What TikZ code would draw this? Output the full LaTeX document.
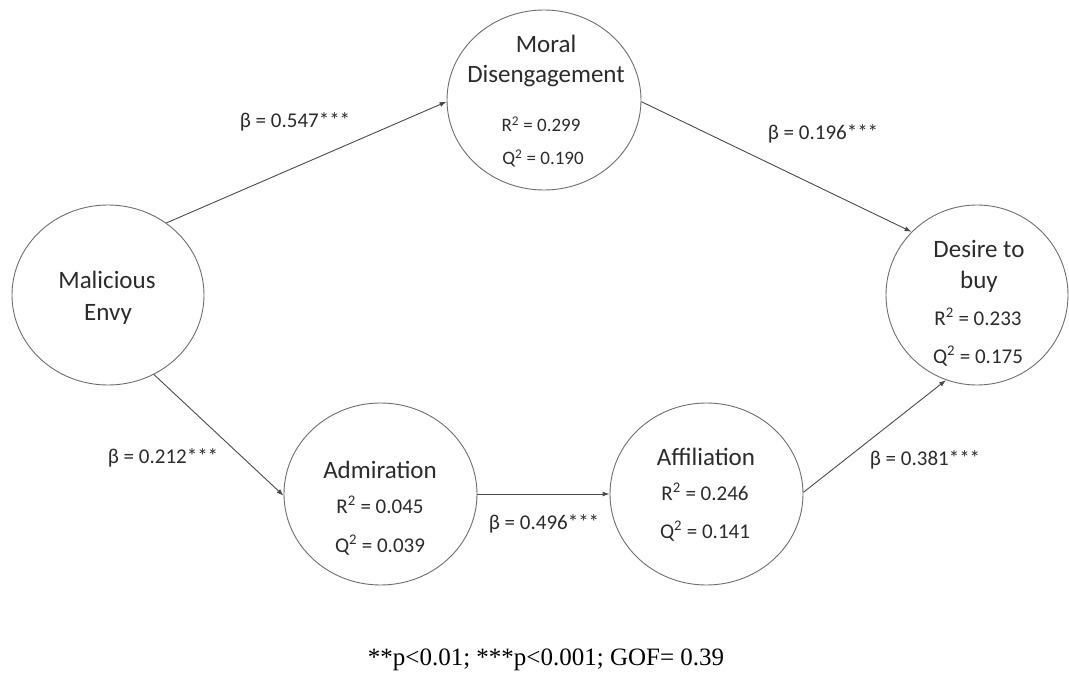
\documentclass[tikz,border=0pt]{standalone}
\usepackage{fontspec}
\setmainfont{Carlito}
\newfontfamily\notefont{Liberation Serif}
\usetikzlibrary{shapes.geometric,arrows.meta}
\definecolor{rim}{HTML}{6E6E6E}
\definecolor{wire}{HTML}{4A4A4A}
\definecolor{ink}{HTML}{2B2B2B}
\newcommand{\sqr}{\textsuperscript{2}}
\begin{document}
\begin{tikzpicture}[x=1pt,y=-1pt,
  construct/.style={draw=rim, line width=0.9pt, ellipse, inner sep=0pt},
  title/.style={anchor=base, inner sep=0pt, text=ink, font=\fontsize{25}{30}\selectfont},
  stat/.style={anchor=base, inner sep=0pt, text=ink, font=\fontsize{21}{25}\selectfont},
  smallstat/.style={stat, font=\fontsize{19}{23}\selectfont},
  coef/.style={anchor=base, inner sep=0pt, text=ink, font=\fontsize{21}{25}\selectfont},
  link/.style={draw=wire, line width=0.9pt, -{Latex[length=7pt,width=5pt]}}]
\useasboundingbox[fill=white] (0,0) rectangle (1069,682);

% latent constructs
\node[construct, minimum width=192pt, minimum height=180pt] (me)  at (108,295)   {};
\node[construct, minimum width=194pt, minimum height=180pt] (md)  at (544,100)   {};
\node[construct, minimum width=182pt, minimum height=180pt] (db)  at (977,295)   {};
\node[construct, minimum width=193pt, minimum height=182pt] (adm) at (380.5,494) {};
\node[construct, minimum width=193pt, minimum height=182pt] (aff) at (706.5,494) {};

% construct names and fit statistics
\node[title] (me1) at (107,288) {Malicious};
\node[title] (me2) at (108,320) {Envy};

\node[title] (md1) at (546,53) {Moral};
\node[title] (md2) at (546,83) {Disengagement};
\node[smallstat] (md3) at (541,132) {R\sqr{} = 0.299};
\node[smallstat] (md4) at (543,165) {Q\sqr{} = 0.190};

\node[title] (db1) at (979,258) {Desire to};
\node[title] (db2) at (979,288) {buy};
\node[stat] (db3) at (978,325) {R\sqr{} = 0.233};
\node[stat] (db4) at (978,363) {Q\sqr{} = 0.175};

\node[title] (adm1) at (380,478) {Admiration};
\node[stat] (adm2) at (380,513) {R\sqr{} = 0.045};
\node[stat] (adm3) at (380,552) {Q\sqr{} = 0.039};

\node[title] (aff1) at (706,465) {Affiliation};
\node[stat] (aff2) at (705,500) {R\sqr{} = 0.246};
\node[stat] (aff3) at (705,538) {Q\sqr{} = 0.141};

% structural paths
\draw[link] (me.51)   -- (md.181);
\draw[link] (md.-1)   -- (db.136);
\draw[link] (me.-60)  -- (adm.181);
\draw[link] (adm.east) -- (aff.west);
\draw[link] (aff.1)   -- (db.-110);

% path coefficients
\node[coef] (c1) at (295,128) {β = 0.547***};
\node[coef] (c2) at (823,140) {β = 0.196***};
\node[coef] (c3) at (163,463) {β = 0.212***};
\node[coef] (c4) at (544,529) {β = 0.496***};
\node[coef] (c5) at (925,465) {β = 0.381***};

% significance note
\node[anchor=base, inner sep=0pt, text=black, font=\notefont\fontsize{25}{30}\selectfont] (note) at (546,665) {**p<0.01; ***p<0.001; GOF= 0.39};
\end{tikzpicture}
\end{document}
